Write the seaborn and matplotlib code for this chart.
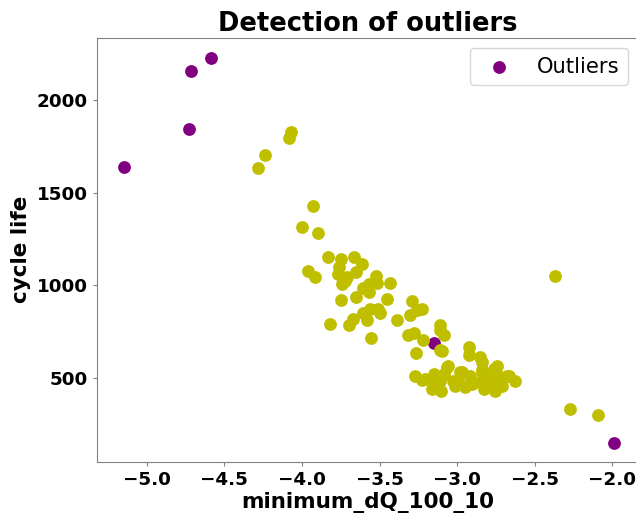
import matplotlib
matplotlib.use("Agg")
import matplotlib.pyplot as plt
import seaborn as sns
import pandas as pd

# Inliers (yellow)
inlier_x = [-4.071, -4.084, -4.239, -4.282, -3.927, -4.002, -3.897, -3.830, -3.750, -3.662,
            -3.610, -3.760, -3.963, -3.918, -3.766, -3.712, -3.652, -3.744, -3.525, -3.514,
            -3.607, -3.566, -3.432, -3.750, -3.654, -3.450, -3.292, -3.228, -3.307, -3.260,
            -3.819, -3.695, -3.669, -3.604, -3.561, -3.508, -3.497, -3.583, -3.389, -3.555,
            -3.320, -3.277, -3.221, -3.265, -3.114, -3.110, -3.088, -3.099, -3.108, -2.923,
            -2.921, -2.852, -2.841, -2.744, -3.060, -3.271, -3.228, -3.152, -3.142, -3.163,
            -3.105, -3.088, -3.110, -3.024, -2.970, -2.981, -2.916, -2.905, -2.841, -2.852,
            -2.798, -2.765, -2.755, -2.723, -2.668, -2.626, -3.012, -2.948, -2.830, -2.712,
            -3.066, -2.980, -2.840, -2.765, -2.680, -3.206, -3.723, -3.570,
            -2.372, -2.271, -2.095]
inlier_y = [1829, 1798, 1703, 1635, 1430, 1313, 1282, 1153, 1144, 1150,
            1114, 1096, 1076, 1043, 1060, 1045, 1069, 1009, 1049, 1013,
            985, 964, 1013, 919, 934, 928, 915, 874, 838, 865,
            792, 783, 820, 850, 874, 874, 850, 810, 814, 716,
            729, 742, 702, 634, 783, 760, 729, 645, 652, 667,
            621, 612, 585, 561, 563, 507, 489, 522, 485, 440,
            426, 522, 485, 485, 530, 467, 512, 467, 530, 477,
            494, 477, 431, 503, 512, 482, 458, 449, 440, 458,
            557, 530, 540, 549, 512, 494, 1024, 1009,
            1049, 332, 301]

# Outliers (purple)
outlier_x = [-5.146, -4.716, -4.583, -4.727, -1.989, -3.152, -2.810]
outlier_y = [1639, 2155, 2230, 1845, 148, 690, 460]

inliers = pd.DataFrame({"minimum_dQ_100_10": inlier_x, "cycle life": inlier_y})
outliers = pd.DataFrame({"minimum_dQ_100_10": outlier_x, "cycle life": outlier_y})

fig = plt.figure(figsize=(6.36, 5.14), dpi=100)
ax = fig.add_axes([0.1525, 0.1012, 0.852, 0.8257])

sns.scatterplot(data=outliers, x="minimum_dQ_100_10", y="cycle life", color="purple",
                s=85, linewidth=0, label="Outliers", ax=ax, zorder=2)
sns.scatterplot(data=inliers, x="minimum_dQ_100_10", y="cycle life", color="y",
                s=85, linewidth=0, ax=ax, zorder=3)

ax.set_xlim(-5.32, -1.83)
ax.set_ylim(45, 2338)
ax.set_xticks([-5.0, -4.5, -4.0, -3.5, -3.0, -2.5, -2.0])
ax.set_yticks([500, 1000, 1500, 2000])

for sp in ax.spines.values():
    sp.set_color("#808080")
ax.tick_params(colors="#808080", labelcolor="black", length=3)
for lab in ax.get_xticklabels() + ax.get_yticklabels():
    lab.set_fontweight("bold")
    lab.set_fontsize(13.2)

ax.set_xlabel("minimum_dQ_100_10", fontsize=15.5, fontweight="bold", labelpad=2)
ax.set_ylabel("cycle life", fontsize=15.5, fontweight="bold", labelpad=4)
ax.set_title("Detection of outliers", fontsize=18.5, fontweight="bold", pad=5)
ax.legend(loc="upper right", fontsize=15.2)

fig.savefig("out.png", dpi=100)
